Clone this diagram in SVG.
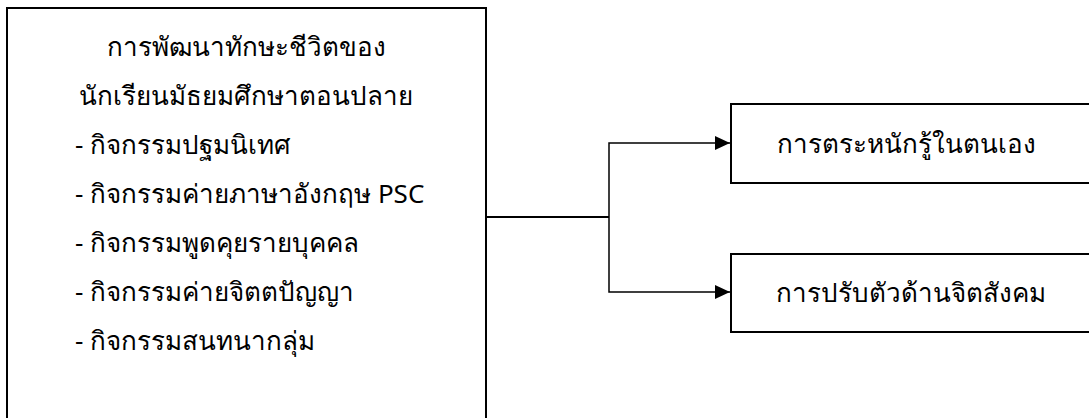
<svg xmlns="http://www.w3.org/2000/svg" width="1089" height="418" viewBox="0 0 1089 418">
<style>
.box{fill:#fff;stroke:#000;stroke-width:2}
.t{font-family:"Noto Sans","DejaVu Sans",sans-serif;font-size:26px;fill:#000}
.c{fill:none;stroke:#000;stroke-width:1.5}
</style>
<defs>
<marker id="ah" markerWidth="15" markerHeight="14" refX="15" refY="7" orient="auto" markerUnits="userSpaceOnUse">
<path d="M0,0 L15,7 L0,14 Z" fill="#000"/>
</marker>
</defs>
<g id="left">
<rect class="box" x="7" y="8" width="479" height="420"/>
<text class="t" x="246" y="56" text-anchor="middle">การพัฒนาทักษะชีวิตของ</text>
<text class="t" x="246" y="105" text-anchor="middle">นักเรียนมัธยมศึกษาตอนปลาย</text>
<text class="t" x="75" y="154">- กิจกรรมปฐมนิเทศ</text>
<text class="t" x="75" y="203">- กิจกรรมค่ายภาษาอังกฤษ PSC</text>
<text class="t" x="75" y="252">- กิจกรรมพูดคุยรายบุคคล</text>
<text class="t" x="75" y="301">- กิจกรรมค่ายจิตตปัญญา</text>
<text class="t" x="75" y="350">- กิจกรรมสนทนากลุ่ม</text>
</g>
<g id="top">
<rect class="box" x="731" y="104" width="370" height="79"/>
<text class="t" x="906" y="153" text-anchor="middle">การตระหนักรู้ในตนเอง</text>
</g>
<g id="bottom">
<rect class="box" x="731" y="254" width="370" height="78"/>
<text class="t" x="911" y="302" text-anchor="middle">การปรับตัวด้านจิตสังคม</text>
</g>
<g id="connectors">
<line class="c" x1="487" y1="217" x2="609" y2="217" style="stroke-width:2"/>
<polyline class="c" points="609,217 609,143 730,143" marker-end="url(#ah)"/>
<polyline class="c" points="609,217 609,292 730,292" marker-end="url(#ah)"/>
</g>
</svg>
